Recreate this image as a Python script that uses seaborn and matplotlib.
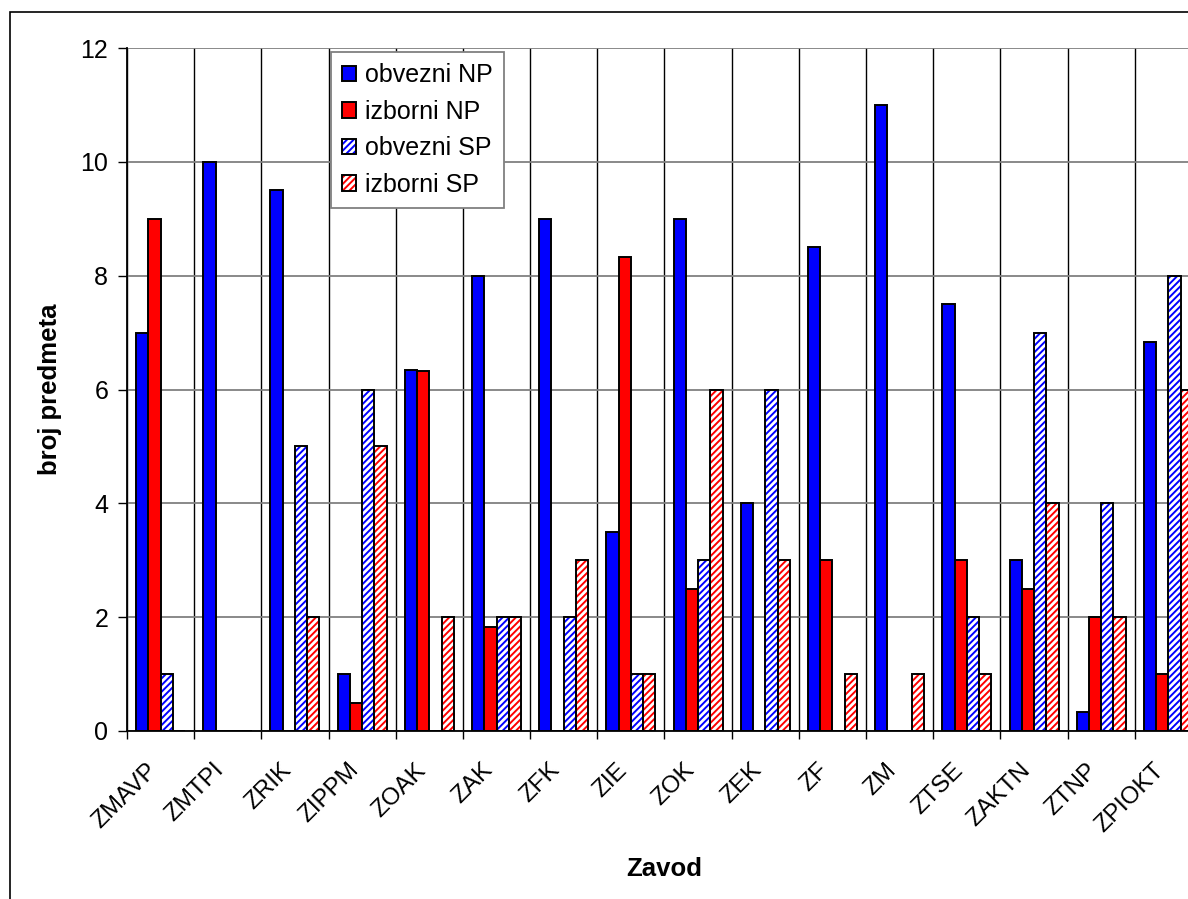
import pandas as pd
import seaborn as sns
import matplotlib.pyplot as plt
import matplotlib.transforms as mtrans
from matplotlib.colors import to_rgba

zavodi = ["ZMAVP", "ZMTPI", "ZRIK", "ZIPPM", "ZOAK", "ZAK", "ZFK", "ZIE",
          "ZOK", "ZEK", "ZF", "ZM", "ZTSE", "ZAKTN", "ZTNP", "ZPIOKT"]
obvezni_np = [7, 10, 9.5, 1, 6.35, 8, 9, 3.5, 9, 4, 8.5, 11, 7.5, 3, 0.33, 6.83]
izborni_np = [9, 0, 0, 0.5, 6.32, 1.83, 0, 8.33, 2.5, 0, 3, 0, 3, 2.5, 2, 1]
obvezni_sp = [1, 0, 5, 6, 0, 2, 2, 1, 3, 6, 0, 0, 2, 7, 4, 8]
izborni_sp = [0, 0, 2, 5, 2, 2, 3, 1, 6, 3, 1, 1, 1, 4, 2, 6]
serije = ["obvezni NP", "izborni NP", "obvezni SP", "izborni SP"]

df = pd.DataFrame({"Zavod": zavodi, serije[0]: obvezni_np, serije[1]: izborni_np,
                   serije[2]: obvezni_sp, serije[3]: izborni_sp})
df = df.melt(id_vars="Zavod", var_name="serija", value_name="broj")

sns.set_style("white")
plt.rcParams['font.family'] = ['Liberation Sans', 'DejaVu Sans']
plt.rcParams['text.color'] = 'black'
plt.rcParams['axes.labelcolor'] = 'black'
plt.rcParams['xtick.color'] = 'black'
plt.rcParams['ytick.color'] = 'black'
plt.rcParams['hatch.linewidth'] = 1.4

fig = plt.figure(figsize=(11.88, 8.99), dpi=100)
ax = fig.add_axes([127 / 1188, 1 - 731 / 899, 1075 / 1188, 683 / 899])

boje = ["#0000FF", "#FF0000", "#0000FF", "#FF0000"]
sns.barplot(data=df, x="Zavod", y="broj", hue="serija", order=zavodi,
            hue_order=serije, palette=boje, saturation=1, width=0.73, gap=0,
            edgecolor="black", linewidth=1.4, ax=ax, errorbar=None, legend=False)

# SP serije: bijela pozadina s kosim prugama u boji serije
for cont, boja in zip(ax.containers[2:], boje[2:]):
    for p in cont:
        p.set_facecolor("white")
        p.set_hatch("/////")
        if hasattr(p, "set_hatchcolor"):
            p.set_hatchcolor(boja)
        else:
            p._hatch_color = to_rgba(boja)

ax.set_ylim(0, 12)
ax.set_xlim(-0.5, len(zavodi) - 0.5)
ax.set_yticks(range(0, 13, 2))
ax.yaxis.grid(True, color="#808080", linewidth=1.3)
ax.set_xticks([i - 0.5 for i in range(len(zavodi))], minor=True)
ax.xaxis.grid(True, which="minor", color="black", linewidth=1)
ax.set_axisbelow(True)
ax.tick_params(axis="x", which="major", length=0, labelsize=17.5, pad=0)
ax.tick_params(axis="x", which="minor", length=6, color="black", width=1, direction="out", bottom=True)
ax.tick_params(axis="y", length=6.5, color="black", width=1, direction="out", labelsize=18, left=True, pad=7)

pomak = mtrans.ScaledTranslation(-0.15, -0.28, fig.dpi_scale_trans)
for lab in ax.get_xticklabels():
    lab.set_rotation(45)
    lab.set_ha("right")
    lab.set_va("top")
    lab.set_rotation_mode("anchor")
    lab.set_transform(lab.get_transform() + pomak)

for s in ["top", "right"]:
    ax.spines[s].set_visible(False)
for s in ["left", "bottom"]:
    ax.spines[s].set_color("black")
    ax.spines[s].set_linewidth(1.3)

ax.set_xlabel("Zavod", fontsize=18.5, fontweight="bold")
ax.xaxis.set_label_coords(0.5, -(857 - 731) / 683, transform=ax.transAxes)
ax.set_ylabel("broj predmeta", fontsize=18.5, fontweight="bold")
ax.yaxis.set_label_coords(-(127 - 62) / 1075, 0.5, transform=ax.transAxes)

ruke = [cont[0] for cont in ax.containers]
leg = ax.legend(ruke, serije, loc="upper left", bbox_to_anchor=(204 / 1075, 0.994),
                borderaxespad=0, fontsize=18, handlelength=0.55, handleheight=0.55,
                handletextpad=0.35, labelspacing=0.5, borderpad=0.45, frameon=True,
                fancybox=False, framealpha=1, edgecolor="#808080")
leg.get_frame().set_linewidth(1.3)

fig.add_artist(plt.Rectangle((10 / 1188, -0.1), 1.2, 1.1 - 12 / 899, transform=fig.transFigure,
                             fill=False, edgecolor="black", linewidth=1.2))

fig.savefig("out.png", dpi=100)
